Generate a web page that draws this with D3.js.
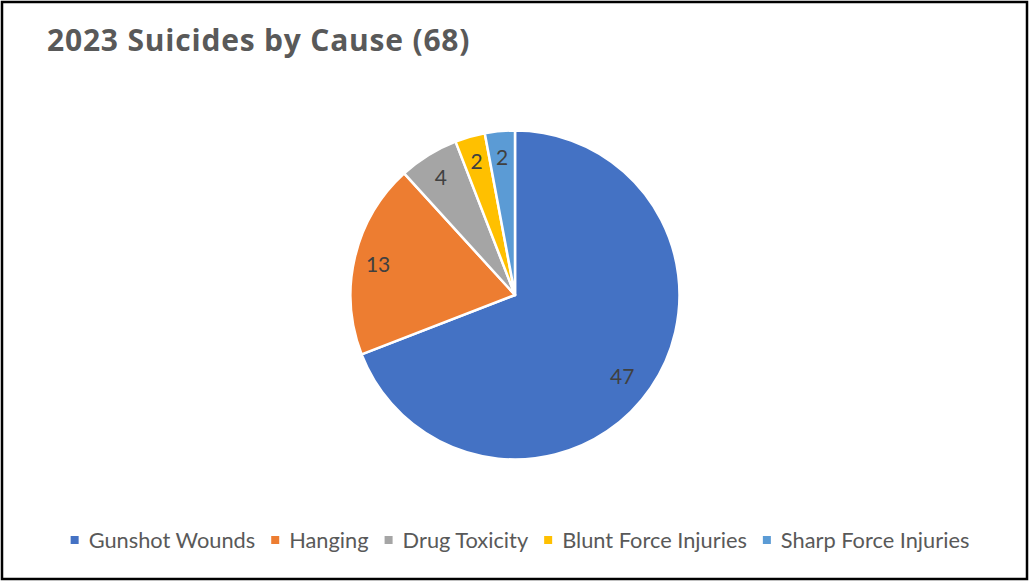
<!DOCTYPE html>
<html>
<head>
<meta charset="utf-8">
<script src="https://cdn.jsdelivr.net/npm/d3@7"></script>
<style>
  html, body { margin: 0; padding: 0; background: #fff; }
  svg { display: block; }
</style>
</head>
<body>
<svg id="chart" width="1029" height="581"></svg>
<script>
// 2023 suicides, split by cause
const causes = ["Gunshot Wounds", "Hanging", "Drug Toxicity", "Blunt Force Injuries", "Sharp Force Injuries"]
const counts = [47, 13, 4, 2, 2]
const colors = ["#4472C4", "#ED7D31", "#A5A5A5", "#FFC000", "#5B9BD5"]
const title = "2023 Suicides by Cause (68)"

const FONT = "Lato, 'Open Sans', sans-serif"
const TITLE_FONT = "'Open Sans', Lato, sans-serif"
const W = 1029, H = 581
const CX = 515, CY = 295, R = 164.5

function main() {
  const svg = d3.select("#chart")

  // frame around the whole chart
  svg.append("rect")
    .attr("x", 2).attr("y", 2)
    .attr("width", W - 4).attr("height", H - 4)
    .attr("fill", "#fff")
    .attr("stroke", "#000")
    .attr("stroke-width", 2.5)

  svg.append("text")
    .attr("x", 47).attr("y", 51)
    .attr("font-family", TITLE_FONT)
    .attr("font-weight", "bold")
    .attr("font-size", 30)
    .attr("letter-spacing", 0.8)
    .attr("fill", "#595959")
    .text(title)

  const data = causes.map((c, i) => ({ cause: c, value: counts[i], color: colors[i] }))

  const pie = d3.pie().sort(null).value(d => d.value)
  const arcs = pie(data)

  const arc = d3.arc().innerRadius(0).outerRadius(R)
  // labels sit a bit inside the rim
  const labelArc = d => {
    const r = d.data.value > 20 ? R * 0.82 : R * 0.855
    return d3.arc().innerRadius(r).outerRadius(r).centroid(d)
  }

  const g = svg.append("g").attr("transform", `translate(${CX},${CY})`)

  g.selectAll("path.slice")
    .data(arcs)
    .join("path")
    .attr("class", "slice")
    .attr("d", arc)
    .attr("fill", d => d.data.color)
    .attr("stroke", "#fff")
    .attr("stroke-width", 2.5)
    .attr("stroke-linejoin", "round")

  g.selectAll("text.lbl")
    .data(arcs)
    .join("text")
    .attr("class", "lbl")
    .attr("transform", d => {
      const [x, y] = labelArc(d)
      return d.data.value > 20 ? `translate(${x - 4},${y + 5})` : `translate(${x},${y + 2})`
    })
    .attr("text-anchor", "middle")
    .attr("dy", "0.36em")
    .attr("font-family", FONT)
    .attr("font-size", 21)
    .attr("fill", "#404040")
    .text(d => d.data.value)

  // legend along the bottom, centred
  const legend = svg.append("g").attr("transform", "translate(0,540)")
  const items = legend.selectAll("g.item")
    .data(data)
    .join("g")
    .attr("class", "item")

  items.append("rect")
    .attr("y", -4).attr("width", 8).attr("height", 8)
    .attr("fill", d => d.color)

  items.append("text")
    .attr("x", 18)
    .attr("dy", "0.35em")
    .attr("font-family", FONT)
    .attr("font-size", 21.8)
    .attr("fill", "#595959")
    .text(d => d.cause)

  let x = 0
  const offsets = []
  items.each(function () {
    offsets.push(x)
    const w = d3.select(this).select("text").node().getComputedTextLength()
    x += 18 + w + 16
  })
  const total = x - 16
  const start = 520 - total / 2
  items.attr("transform", (d, i) => `translate(${start + offsets[i]},0)`)
}

main()
</script>
</body>
</html>
